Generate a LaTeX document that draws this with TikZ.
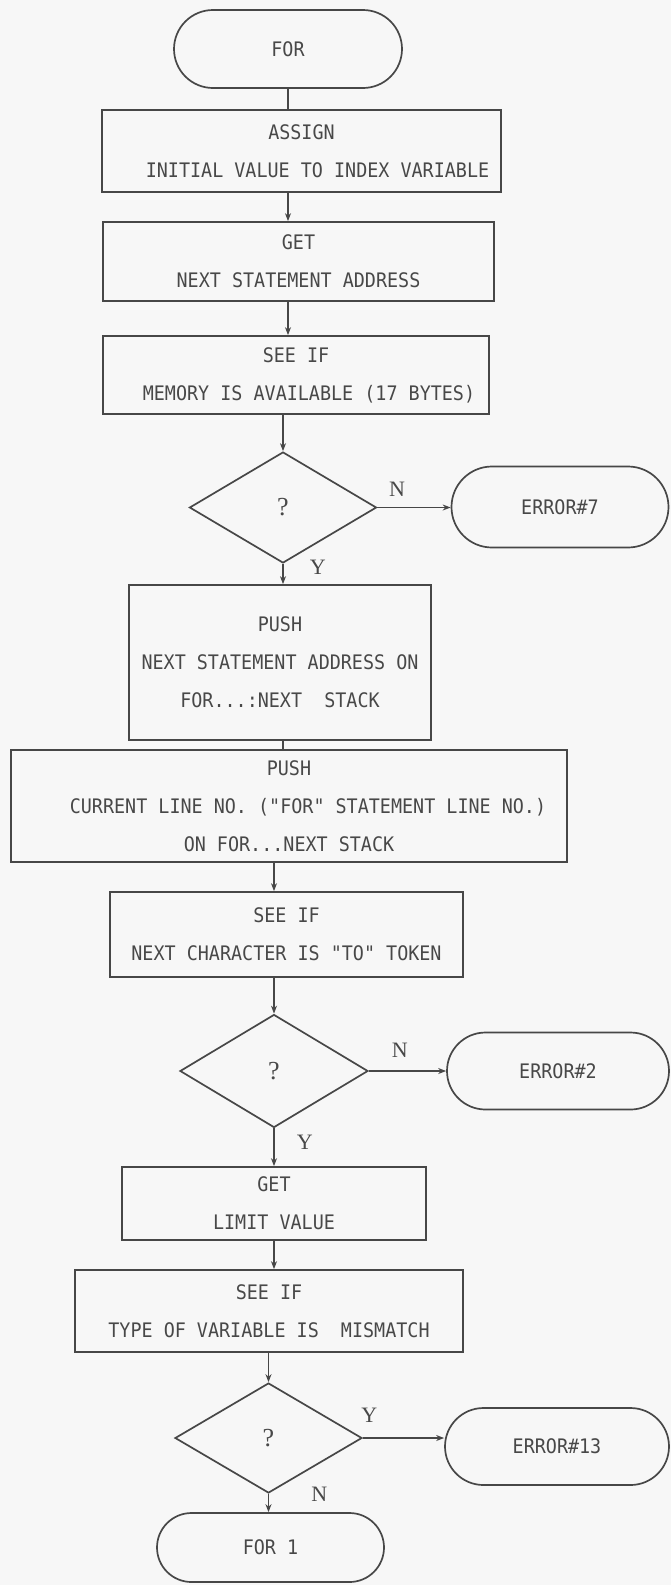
\documentclass[tikz,border=0pt]{standalone}
\usepackage{fontspec}
\newfontfamily\plotfamily{DejaVu Sans Mono}[FakeStretch=0.92]
\newfontfamily\labfamily{Liberation Serif}
\newcommand\myplotfont{\plotfamily\fontsize{20}{38}\selectfont}
\newcommand\mylabfont{\labfamily\fontsize{22}{26}\selectfont}
\newcommand\myqfont{\labfamily\fontsize{26}{30}\selectfont}
\usetikzlibrary{shapes.geometric,shapes.misc,arrows.meta}
\definecolor{ln}{HTML}{474747}
\definecolor{tx}{HTML}{484848}
\definecolor{paper}{HTML}{F7F7F7}
\tikzset{
  box/.style={draw=ln, line width=1.7pt, rectangle, inner sep=0pt, align=center, font=\myplotfont, text=tx},
  term/.style={box, rounded rectangle},
  dec/.style={draw=ln, line width=1.7pt, diamond, inner sep=0pt, font=\myqfont, text=tx},
  conn/.style={draw=ln, line width=1.7pt},
  arr/.style={conn, -{Stealth[length=8pt,width=6pt]}},
  lbl/.style={font=\mylabfont, text=tx, inner sep=0pt}
}
\begin{document}
\begin{tikzpicture}[x=1pt,y=-1pt]
\fill[paper] (0,0) rectangle (671,1585);
\useasboundingbox (0,0) rectangle (671,1585);

\node[term, minimum width=228pt, minimum height=78pt] (start) at (288,49) {FOR};
\node[box, minimum width=399pt, minimum height=82pt] (assign) at (301.5,151) {ASSIGN\\\hspace*{32pt}INITIAL VALUE TO INDEX VARIABLE};
\node[box, minimum width=391pt, minimum height=79pt] (get1) at (298.5,261.5) {GET\\NEXT STATEMENT ADDRESS};
\node[box, minimum width=386pt, minimum height=78pt] (see1) at (296,375) {SEE IF\\\hspace*{26pt}MEMORY IS AVAILABLE (17 BYTES)};
\node[dec, minimum width=187pt, minimum height=111pt] (dec1) at (283,507.5) {?};
\node[term, minimum width=217pt, minimum height=81pt] (err7) at (560,507) {ERROR\#7};
\node[box, minimum width=302pt, minimum height=155pt] (push1) at (280,662.5) {PUSH\\NEXT STATEMENT ADDRESS ON\\FOR...:NEXT\ \ STACK};
\node[box, minimum width=556pt, minimum height=112pt] (push2) at (289,806) {PUSH\\\hspace*{38pt}CURRENT LINE NO. ("FOR" STATEMENT LINE NO.)\\ON FOR...NEXT STACK};
\node[box, minimum width=353pt, minimum height=85pt] (see2) at (286.5,934.5) {SEE IF\\NEXT CHARACTER IS "TO" TOKEN};
\node[dec, minimum width=188pt, minimum height=113pt] (dec2) at (274,1071) {?};
\node[term, minimum width=222pt, minimum height=77pt] (err2) at (558,1071) {ERROR\#2};
\node[box, minimum width=304pt, minimum height=73pt] (get2) at (274,1203.5) {GET\\LIMIT VALUE};
\node[box, minimum width=388pt, minimum height=82pt] (see3) at (269,1311) {SEE IF\\TYPE OF VARIABLE IS\ \ MISMATCH};
\node[dec, minimum width=187pt, minimum height=110pt] (dec3) at (268.5,1438) {?};
\node[term, minimum width=224pt, minimum height=77pt] (err13) at (557,1446.5) {ERROR\#13};
\node[term, minimum width=227pt, minimum height=69pt] (for1) at (270.5,1547.5) {FOR 1};

\draw[conn] (start.south) -- (start.south |- assign.north);
\draw[arr] (assign.south -| start.south) -- (get1.north -| start.south);
\draw[arr] (get1.south -| start.south) -- (see1.north -| start.south);
\draw[arr] (see1.south -| dec1.north) -- (dec1.north);
\draw[arr] (dec1.east) -- node[lbl, above=10pt, pos=0.27]{N} (dec1.east -| err7.west);
\draw[arr] (dec1.south) -- node[lbl, right=26pt, pos=0.15]{Y} (dec1.south |- push1.north);
\draw[conn] (push1.south -| dec1.south) -- (push2.north -| dec1.south);
\draw[arr] (push2.south -| dec2.north) -- (see2.north -| dec2.north);
\draw[arr] (see2.south -| dec2.north) -- (dec2.north);
\draw[arr] (dec2.east) -- node[lbl, above=13pt, pos=0.4]{N} (dec2.east -| err2.west);
\draw[arr] (dec2.south) -- node[lbl, right=22pt, pos=0.38]{Y} (dec2.south |- get2.north);
\draw[arr] (get2.south -| dec2.south) -- (see3.north -| dec2.south);
\draw[arr] (see3.south -| dec3.north) -- (dec3.north);
\draw[arr] (dec3.east) -- node[lbl, above=15pt, pos=0.08]{Y} (dec3.east -| err13.west);
\draw[arr] (dec3.south) -- node[lbl, right=42pt, pos=0.05]{N} (dec3.south |- for1.north);
\end{tikzpicture}
\end{document}
